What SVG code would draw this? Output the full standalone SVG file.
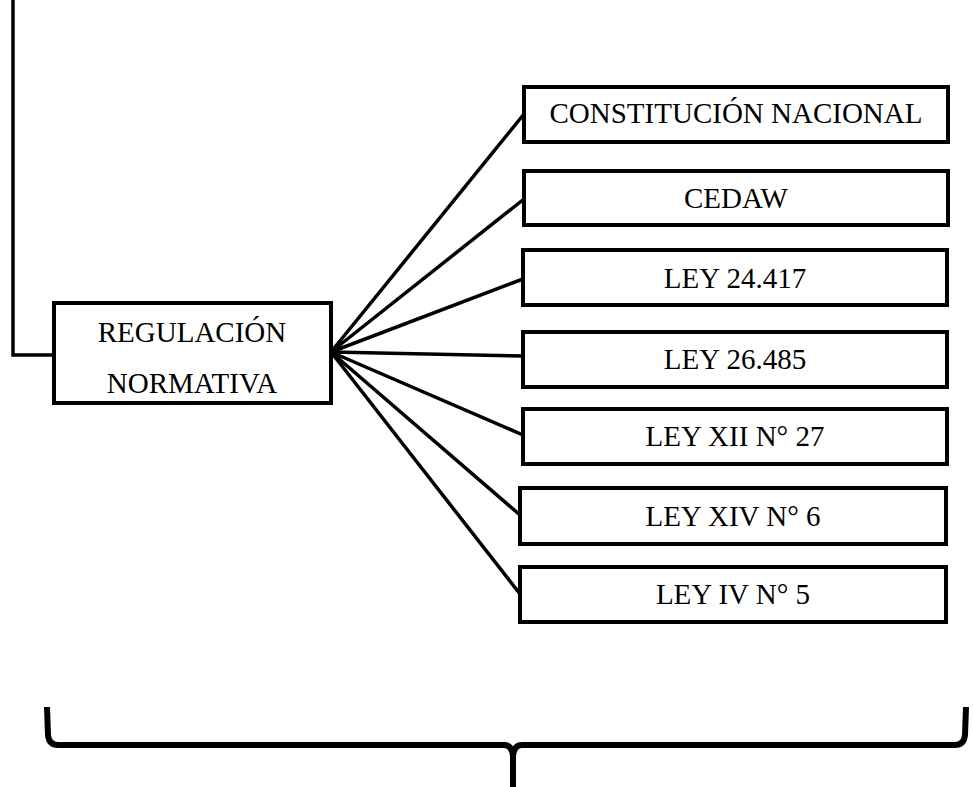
<svg xmlns="http://www.w3.org/2000/svg" width="973" height="787" viewBox="0 0 973 787">
<style>
.box{fill:#fff;stroke:#000;stroke-width:4}
.t{font-family:"Liberation Serif","Times New Roman",serif;font-size:29px;fill:#000;text-anchor:middle}
.c{fill:none;stroke:#000;stroke-width:3.5}
</style>
<rect width="973" height="787" fill="#fff"/>
<g id="connectors">
<polyline class="c" points="13,0 13,355 55,355"/>
<line class="c" x1="331" y1="352" x2="524" y2="114"/>
<line class="c" x1="331" y1="352" x2="524" y2="199"/>
<line class="c" x1="331" y1="352" x2="523" y2="279"/>
<line class="c" x1="331" y1="352" x2="523" y2="356"/>
<line class="c" x1="331" y1="352" x2="523" y2="435"/>
<line class="c" x1="331" y1="352" x2="520" y2="515"/>
<line class="c" x1="331" y1="352" x2="520" y2="594"/>
<path d="M47,707 L48,735 Q49,745 58,745 L504,745 Q512,745 513,756 L513,787 M513,756 Q514,745 522,745 L955,745 Q964,745 965,735 L966,707" fill="none" stroke="#000" stroke-width="6"/>
</g>
<g id="regulacion">
<rect class="box" x="54" y="303" width="277" height="100"/>
<text class="t" x="192" y="342">REGULACIÓN</text>
<text class="t" x="192" y="393">NORMATIVA</text>
</g>
<g id="constitucion">
<rect class="box" x="524" y="87" width="424" height="55"/>
<text class="t" x="736" y="123">CONSTITUCIÓN NACIONAL</text>
</g>
<g id="cedaw">
<rect class="box" x="524" y="171" width="424" height="54"/>
<text class="t" x="736" y="208">CEDAW</text>
</g>
<g id="ley24417">
<rect class="box" x="523" y="250" width="424" height="55"/>
<text class="t" x="735" y="288">LEY 24.417</text>
</g>
<g id="ley26485">
<rect class="box" x="523" y="332" width="424" height="55"/>
<text class="t" x="735" y="369">LEY 26.485</text>
</g>
<g id="leyxii">
<rect class="box" x="523" y="409" width="424" height="55"/>
<text class="t" x="735" y="446">LEY XII N° 27</text>
</g>
<g id="leyxiv">
<rect class="box" x="520" y="488" width="426" height="56"/>
<text class="t" x="733" y="526">LEY XIV N° 6</text>
</g>
<g id="leyiv">
<rect class="box" x="520" y="567" width="426" height="55"/>
<text class="t" x="733" y="604">LEY IV N° 5</text>
</g>
</svg>
